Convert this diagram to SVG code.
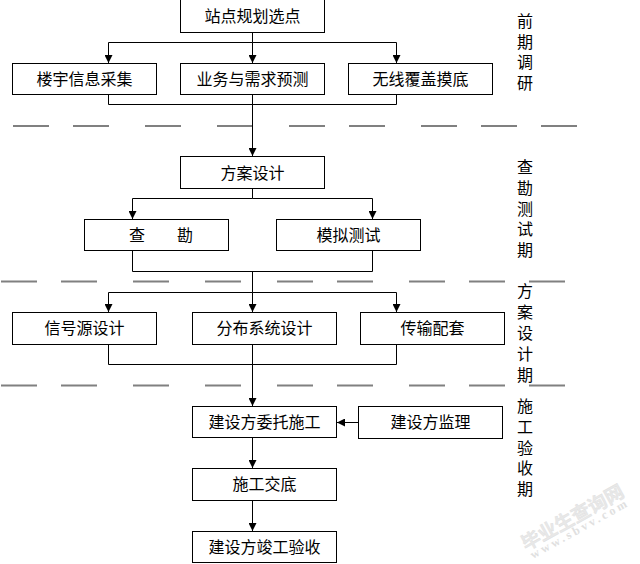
<svg xmlns="http://www.w3.org/2000/svg" width="640" height="564" viewBox="0 0 640 564">
<style>
text{font-family:"Noto Sans CJK SC","Liberation Sans",sans-serif;fill:#000;font-size:16px}
.n rect{fill:#fff;stroke:#000;stroke-width:1}
.n text{text-anchor:middle;dominant-baseline:central}
.c path{fill:none;stroke:#000;stroke-width:1}
.d path{fill:none;stroke:#808080;stroke-width:2}
.s text{writing-mode:vertical-rl}
.wm{fill:#e8e8e8;stroke:#dcdcdc;stroke-width:.3;font-weight:700}
</style>
<defs>
<marker id="a" markerUnits="userSpaceOnUse" markerWidth="8" markerHeight="8" refX="8" refY="4" orient="auto"><path d="M0 0L8 4L0 8z" fill="#000"/></marker>
</defs>
<rect width="640" height="564" fill="#fff"/>
<g id="dividers" class="d">
<path d="M13 126h36M73 126h36M145 126h36M217 126h36M289 126h36M349 126h36M421 126h36M481 126h36M541 126h36"/>
<path d="M1 281.500h36M61 281.500h36M133 281.500h36M205 281.500h36M277 281.500h36M337 281.500h36M409 281.500h36M469 281.500h36M529 281.500h36"/>
<path d="M1 385.500h36M61 385.500h36M133 385.500h36M205 385.500h36M277 385.500h36M337 385.500h36M409 385.500h36M469 385.500h36M529 385.500h36"/>
</g>
<g id="connectors" class="c">
<path d="M252.500 32V42.500" />
<path d="M252.500 42.500H108.500V63" marker-end="url(#a)"/>
<path d="M252.500 42.500V63" marker-end="url(#a)"/>
<path d="M252.500 42.500H396.500V63" marker-end="url(#a)"/>
<path d="M108.500 95V104.500H396.500V95"/>
<path d="M252.500 95V156" marker-end="url(#a)"/>
<path d="M252.500 188V198.500"/>
<path d="M252.500 198.500H132.500V219" marker-end="url(#a)"/>
<path d="M252.500 198.500H372.500V219" marker-end="url(#a)"/>
<path d="M132.500 251V271.500H372.500V251"/>
<path d="M252.500 271.500V292.500"/>
<path d="M252.500 292.500H108.500V312" marker-end="url(#a)"/>
<path d="M252.500 292.500V312" marker-end="url(#a)"/>
<path d="M252.500 292.500H396.500V312" marker-end="url(#a)"/>
<path d="M108.500 345V364.500H396.500V345"/>
<path d="M252.500 345V406" marker-end="url(#a)"/>
<path d="M358 422.500H337" marker-end="url(#a)"/>
<path d="M252.500 438V468" marker-end="url(#a)"/>
<path d="M252.500 500V531" marker-end="url(#a)"/>
</g>
<g id="n1" class="n"><rect x="180.500" y="-1" width="144" height="33.500"/><text x="252.500" y="15">站点规划选点</text></g>
<g id="n2" class="n"><rect x="12.500" y="63.500" width="144" height="31"/><text x="84.500" y="78">楼宇信息采集</text></g>
<g id="n3" class="n"><rect x="180.500" y="63.500" width="144" height="31"/><text x="252.500" y="78">业务与需求预测</text></g>
<g id="n4" class="n"><rect x="348.500" y="63.500" width="144" height="31"/><text x="420.500" y="78">无线覆盖摸底</text></g>
<g id="n5" class="n"><rect x="180.500" y="156.500" width="144" height="32"/><text x="252.500" y="171.500">方案设计</text></g>
<g id="n6" class="n"><rect x="84.500" y="219.500" width="144" height="31"/><text x="137 177" y="233.500" style="text-anchor:start" dx="-8">查勘</text></g>
<g id="n7" class="n"><rect x="276.500" y="219.500" width="144" height="31"/><text x="348.500" y="233.500">模拟测试</text></g>
<g id="n8" class="n"><rect x="12.500" y="312.500" width="144" height="32"/><text x="84.500" y="327">信号源设计</text></g>
<g id="n9" class="n"><rect x="192.500" y="312.500" width="144" height="32"/><text x="264.500" y="327">分布系统设计</text></g>
<g id="n10" class="n"><rect x="360.500" y="312.500" width="144" height="32"/><text x="432.500" y="327">传输配套</text></g>
<g id="n11" class="n"><rect x="192.500" y="406.500" width="144" height="31"/><text x="264.500" y="421">建设方委托施工</text></g>
<g id="n12" class="n"><rect x="358.500" y="406.500" width="144" height="32"/><text x="430.500" y="421">建设方监理</text></g>
<g id="n13" class="n"><rect x="192.500" y="468.500" width="144" height="32"/><text x="264.500" y="483">施工交底</text></g>
<g id="n14" class="n"><rect x="192.500" y="531.500" width="144" height="31"/><text x="264.500" y="546">建设方竣工验收</text></g>
<g id="stages" class="s">
<text x="525" y="13" letter-spacing="4.500">前期调研</text>
<text x="525" y="159" letter-spacing="4.800">查勘测试期</text>
<text x="525" y="283" letter-spacing="5">方案设计期</text>
<text x="525" y="398" letter-spacing="4.800">施工验收期</text>
</g>
<g id="watermark">
<text class="wm" transform="translate(526 551) rotate(-29)" style="font-size:19px">毕业生查询网</text>
<text class="wm" transform="translate(533 559) rotate(-29)" style="font-size:12px;font-family:'Liberation Serif',serif;stroke:none;fill:#e0e0e0" letter-spacing="3">www.sbvv.com</text>
</g>
</svg>
